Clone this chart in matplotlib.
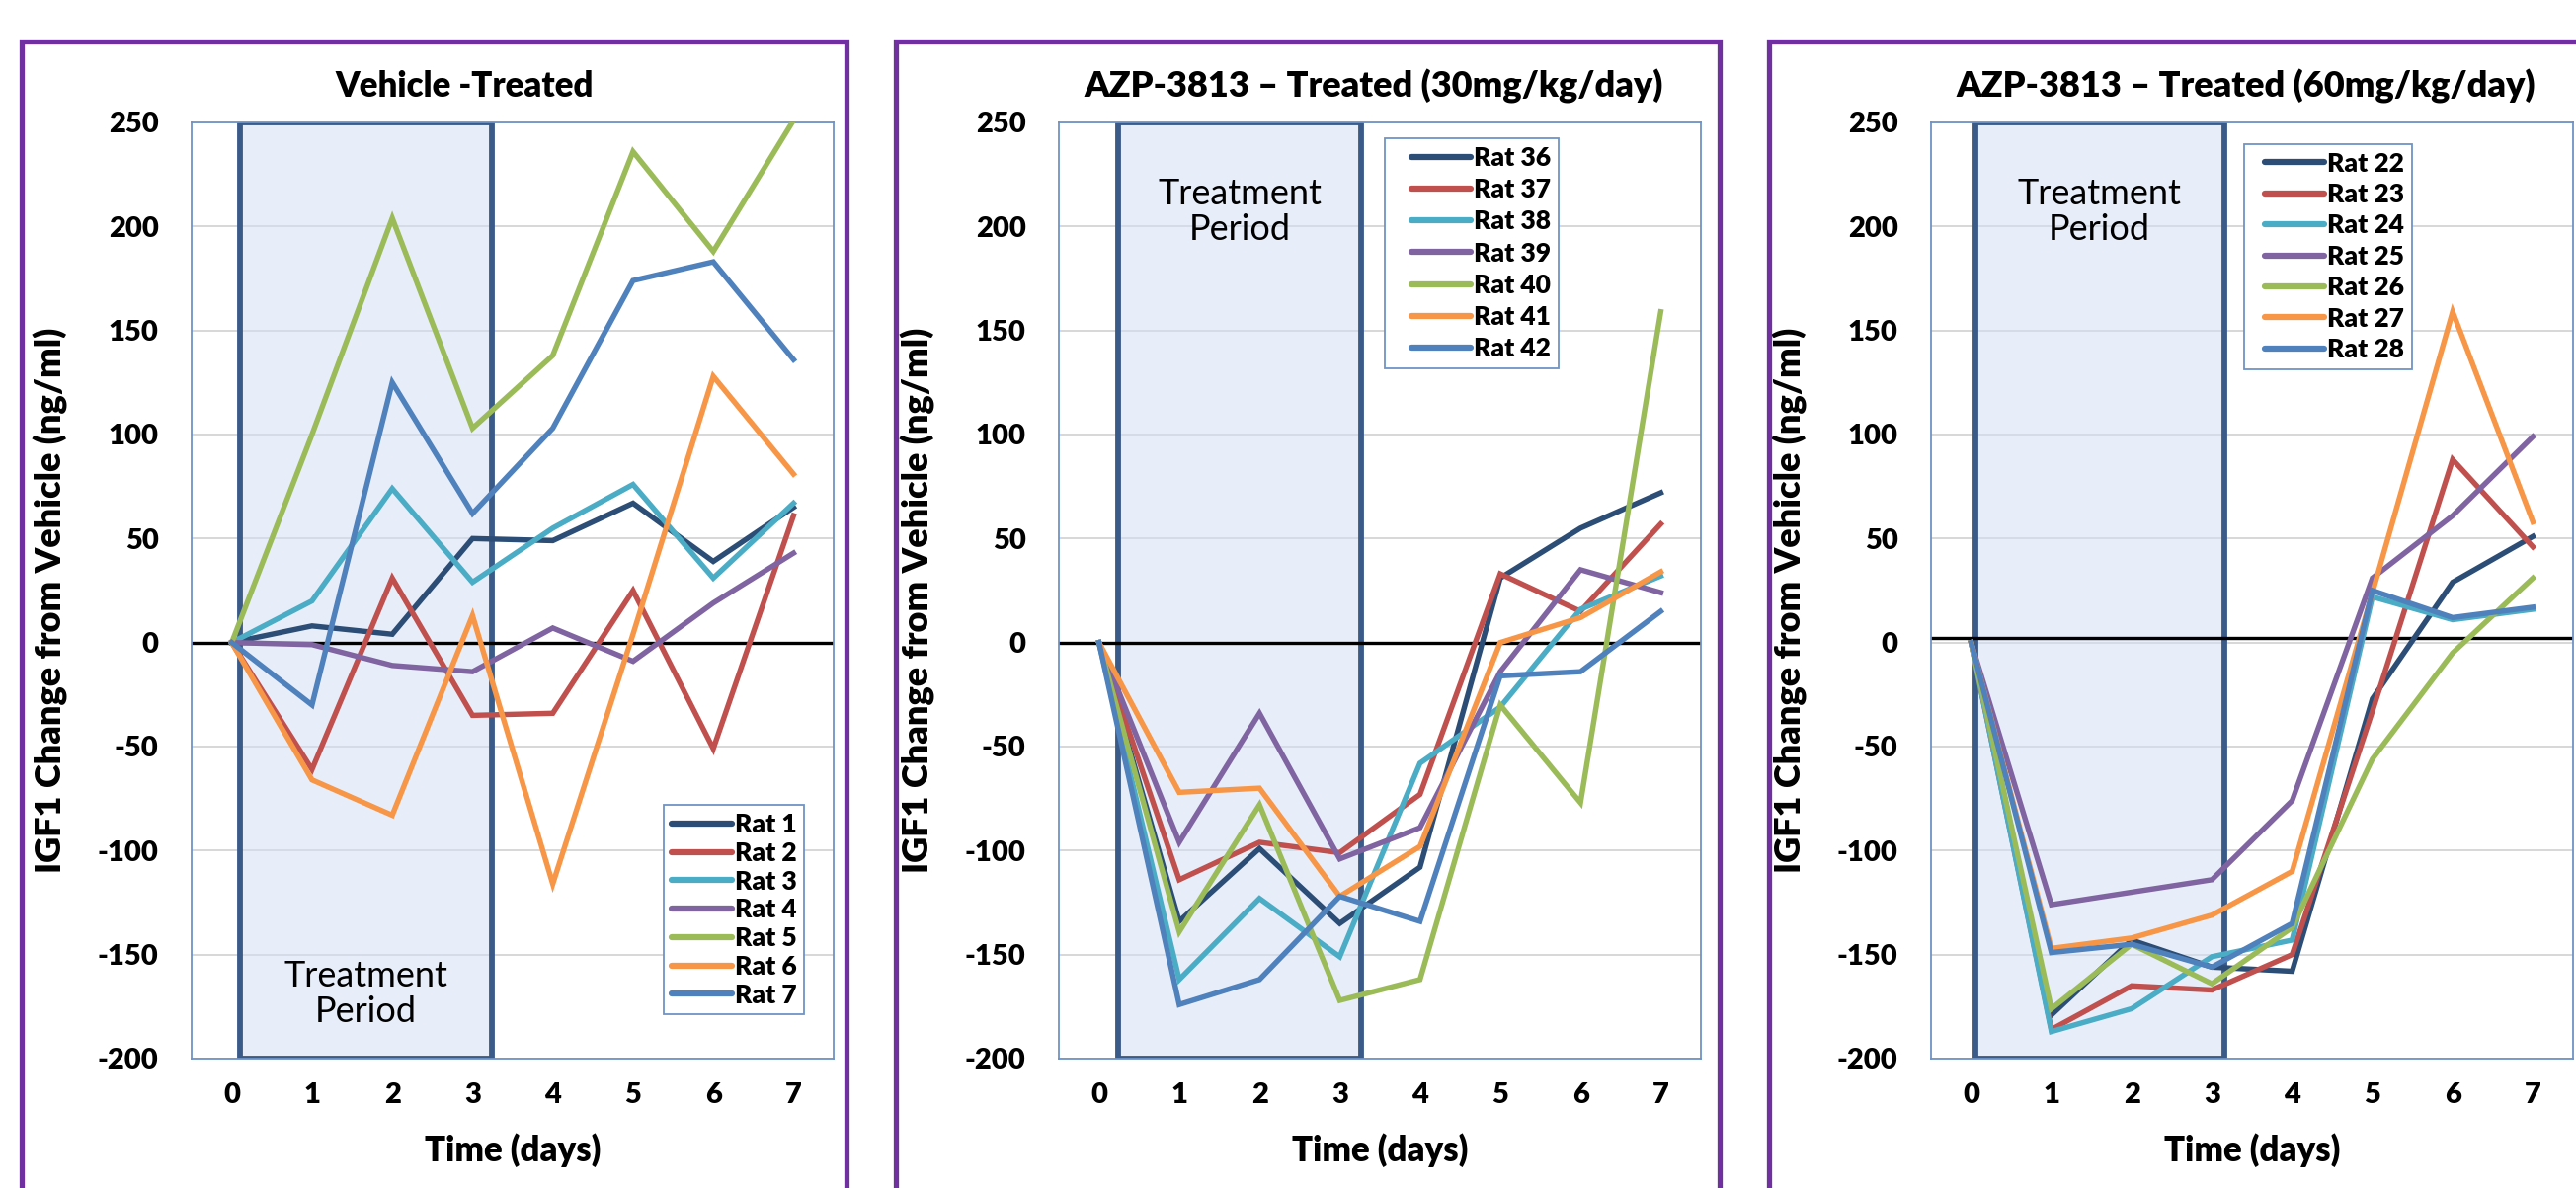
import matplotlib
matplotlib.use("Agg")
import matplotlib.pyplot as plt
from matplotlib.patches import Rectangle
from matplotlib.legend_handler import HandlerLine2D
import numpy as np

plt.rcParams['font.family'] = ['Lato', 'DejaVu Sans']
plt.rcParams['axes.unicode_minus'] = False

days = [0, 1, 2, 3, 4, 5, 6, 7]

# vehicle treated
vehicle_labels = ['Rat 1', 'Rat 2', 'Rat 3', 'Rat 4', 'Rat 5', 'Rat 6', 'Rat 7']
vehicle_values = [
    [0, 8, 4, 50, 49, 67, 39, 65],
    [0, -61, 31, -35, -34, 25, -51, 61],
    [0, 20, 74, 29, 55, 76, 31, 67],
    [0, -1, -11, -14, 7, -9, 19, 43],
    [0, 100, 204, 103, 138, 236, 188, 251],
    [0, -66, -83, 13, -116, 4, 128, 81],
    [0, -30, 125, 62, 103, 174, 183, 136],
]

# AZP-3813 30mg/kg/day
dose30_labels = ['Rat 36', 'Rat 37', 'Rat 38', 'Rat 39', 'Rat 40', 'Rat 41', 'Rat 42']
dose30_values = [
    [0, -134, -99, -135, -108, 31, 55, 72],
    [0, -114, -96, -101, -73, 33, 15, 57],
    [0, -162, -123, -151, -58, -31, 16, 32],
    [0, -96, -34, -104, -89, -14, 35, 24],
    [0, -139, -78, -172, -162, -30, -77, 159],
    [0, -72, -70, -122, -98, 0, 12, 34],
    [0, -174, -162, -122, -134, -16, -14, 15],
]

# AZP-3813 60mg/kg/day
dose60_labels = ['Rat 22', 'Rat 23', 'Rat 24', 'Rat 25', 'Rat 26', 'Rat 27', 'Rat 28']
dose60_values = [
    [0, -179, -143, -156, -158, -27, 29, 51],
    [0, -186, -165, -167, -150, -33, 88, 46],
    [0, -187, -176, -151, -143, 22, 11, 16],
    [0, -126, -120, -114, -76, 31, 61, 99],
    [0, -176, -145, -164, -137, -56, -5, 31],
    [0, -147, -142, -131, -110, 24, 159, 58],
    [0, -149, -145, -156, -135, 25, 12, 17],
]

titles = ['Vehicle -Treated',
          'AZP-3813 \u2013 Treated (30mg/kg/day)',
          'AZP-3813 \u2013 Treated (60mg/kg/day)']
treat_start = [0.1, 0.24, 0.05]
treat_end = [3.24, 3.27, 3.15]
zero_level = [0, 0, 2]

colors = ['#2C4D75', '#C0504D', '#4BACC6', '#8064A2', '#9BBB59', '#F79646', '#4F81BD']

fig = plt.figure(figsize=(26.08, 12.03), dpi=100)

W, H = 2608.0, 1203.0
ax_left = [194, 1072, 1955]
frame_left = [22, 907, 1791]
frame_right = [857, 1741, 2640]
title_x = [0.425, 0.49, 0.49]
title_size = [25, 26, 26]
legend_pos = [(0.736, 0.271), (0.508, 0.983), (0.487, 0.977)]
legend_xpad = [0.0, 0.7, 0.5]
legend_spacing = [0.18, 0.31, 0.28]

panels = [(vehicle_labels, vehicle_values),
          (dose30_labels, dose30_values),
          (dose60_labels, dose60_values)]

BOLD = 'heavy'

for p in range(3):
    # purple panel frame
    fig.patches.append(Rectangle((frame_left[p] / W, -0.05),
                                 (frame_right[p] - frame_left[p]) / W, 1.0 - 42 / H + 0.05,
                                 transform=fig.transFigure, fill=False,
                                 edgecolor='#7030A0', linewidth=3.8))

    ax = fig.add_axes([ax_left[p] / W, 1 - 1072 / H, 650 / W, 948 / H])
    labels, values = panels[p]

    ax.add_patch(Rectangle((treat_start[p], -200), treat_end[p] - treat_start[p], 450,
                           facecolor=(0.84, 0.88, 0.96, 0.55), edgecolor='#3A5A88',
                           linewidth=4.2, zorder=1))
    ax.axhline(zero_level[p], color='black', linewidth=2.4, zorder=2)

    for i, row in enumerate(values):
        ax.plot(days, row, color=colors[i], linewidth=3.9, label=labels[i],
                zorder=3, solid_joinstyle='miter')

    ax.set_xlim(-0.5, 7.5)
    ax.set_ylim(-200, 250)
    ax.set_xticks(days)
    ax.set_yticks(np.arange(-200, 251, 50))
    ax.yaxis.grid(True, color='#D4D4D4', linewidth=1.3)
    ax.set_axisbelow(True)
    ax.tick_params(length=0, labelsize=21)
    ax.tick_params(axis='y', pad=24)
    ax.tick_params(axis='x', pad=17)
    for lab in ax.get_xticklabels() + ax.get_yticklabels():
        lab.set_fontweight(BOLD)
    for s in ax.spines.values():
        s.set_color('#6F93C6')
        s.set_linewidth(1.3)

    ax.text(title_x[p], 1.039, titles[p], transform=ax.transAxes, ha='center',
            va='center', fontsize=title_size[p], fontweight=BOLD)
    ax.text(-0.219, 0.49, 'IGF1 Change from Vehicle (ng/ml)', transform=ax.transAxes,
            rotation=90, ha='center', va='center', fontsize=26, fontweight=BOLD)
    ax.text(0.5, -0.098, 'Time (days)', transform=ax.transAxes, ha='center',
            va='center', fontsize=25, fontweight=BOLD)

    mid = (treat_start[p] + treat_end[p]) / 2
    ty = -169 if p == 0 else 207
    ax.text(mid, ty, 'Treatment\nPeriod', ha='center', va='center', fontsize=26,
            linespacing=1.1, zorder=4)

    leg = ax.legend(loc='upper left', bbox_to_anchor=legend_pos[p], fontsize=19,
                    handlelength=2.3 + legend_xpad[p], handletextpad=0.1,
                    labelspacing=legend_spacing[p], borderpad=0.3, borderaxespad=0,
                    fancybox=False, framealpha=1,
                    handler_map={matplotlib.lines.Line2D: HandlerLine2D(xpad=legend_xpad[p])})
    leg.get_frame().set_edgecolor('#6F93C6')
    leg.get_frame().set_linewidth(1.3)
    for t in leg.get_texts():
        t.set_fontweight(BOLD)
    for h in leg.get_lines():
        h.set_linewidth(4.5)
        h.set_solid_capstyle('round')

fig.savefig('out.png', dpi=100, facecolor='white')
